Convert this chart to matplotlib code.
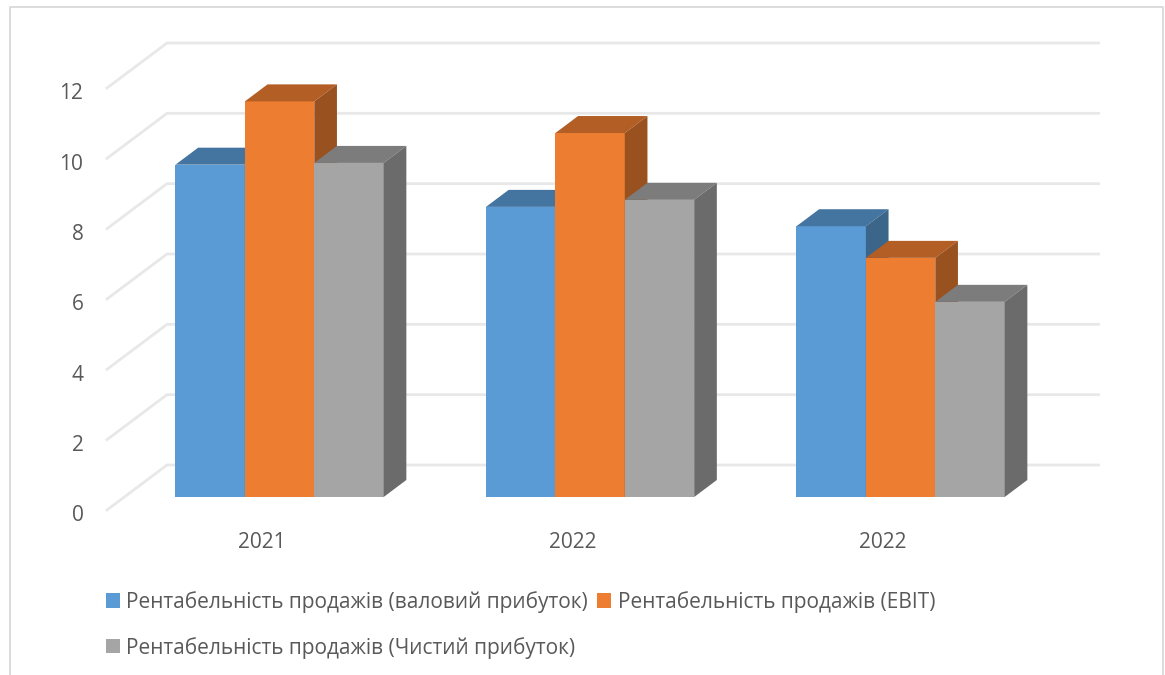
import matplotlib
matplotlib.use('Agg')
import matplotlib.pyplot as plt
from matplotlib.lines import Line2D
from matplotlib.transforms import ScaledTranslation
import numpy as np

plt.rcParams['font.family'] = ['Open Sans', 'DejaVu Sans']

# --- Data ---
categories = ['2021', '2022', '2022']
gross = [9.45, 8.25, 7.7]
ebit = [11.25, 10.35, 6.8]
net = [9.5, 8.45, 5.55]
series_names = [
    'Рентабельність продажів (валовий прибуток)',
    'Рентабельність продажів (EBIT)',
    'Рентабельність продажів (Чистий прибуток)',
]
y_ticks = [0, 2, 4, 6, 8, 10, 12]

# front, top, side colours per series
colors = [
    ('#5B9BD5', '#4474A0', '#3B6589'),
    ('#ED7D31', '#B25E25', '#9A5120'),
    ('#A5A5A5', '#7C7C7C', '#6B6B6B'),
]
text_color = '#595959'
grid_color = '#E8E8E8'
frame_color = '#D9D9D9'

W, H = 1165, 675
fig = plt.figure(figsize=(W / 100, H / 100), dpi=100)
ax = fig.add_axes([107 / W, 1 - 510 / H, (1038.5 - 107) / W, (510 - 88) / H])
ax.set_xlim(-0.5, 2.5)
ax.set_ylim(0, 12)

# Oblique projection: full floor depth in data units
depth_x = 60 / 310.5
depth_y = 45 / 35.17
bar_front = 13 / 45   # depth where bars start
bar_back = 30 / 45    # depth where bars end
bar_width = 0.2235

# back wall and side wall lines
for t in y_ticks:
    ax.plot([-0.5, -0.5 + depth_x, 2.5 + depth_x], [t, t + depth_y, t + depth_y],
            color=grid_color, lw=2.0, clip_on=False, zorder=1, solid_joinstyle='miter')

x = np.arange(len(categories))
handles = []
for s, values in enumerate([gross, ebit, net]):
    front, top, side = colors[s]
    z = 3 + s
    left = x + (s - 1) * bar_width + bar_front * depth_x
    bars = ax.bar(left, values, bar_width, bottom=bar_front * depth_y, color=front,
                  zorder=z, clip_on=False, label=series_names[s])
    handles.append(bars)
    d_x = (bar_back - bar_front) * depth_x
    d_y = (bar_back - bar_front) * depth_y
    for xc, v in zip(left, values):
        x0 = xc - bar_width / 2
        x1 = xc + bar_width / 2
        base = bar_front * depth_y
        y1 = base + v
        ax.fill([x0, x1, x1 + d_x, x0 + d_x], [y1, y1, y1 + d_y, y1 + d_y],
                color=top, lw=0, zorder=z, clip_on=False)
        ax.fill([x1, x1 + d_x, x1 + d_x, x1], [base, base + d_y, y1 + d_y, y1],
                color=side, lw=0, zorder=z, clip_on=False)

ax.set_xticks(x)
ax.set_xticklabels(categories)
ax.set_yticks(y_ticks)
ax.tick_params(axis='x', length=0, pad=16, labelsize=15, labelcolor=text_color)
ax.tick_params(axis='y', length=0, pad=17, labelsize=15, labelcolor=text_color)
# y labels sit a little below their lines in the original
shift = ScaledTranslation(0, -2.5 / 72, fig.dpi_scale_trans)
for lab in ax.get_yticklabels():
    lab.set_transform(lab.get_transform() + shift)
for spine in ax.spines.values():
    spine.set_visible(False)
ax.patch.set_alpha(0)

# two columns: first holds gross + net, second holds EBIT
leg = ax.legend([handles[0], handles[2], handles[1]],
                [series_names[0], series_names[2], series_names[1]],
                ncol=2, loc='upper left', bbox_to_anchor=(106 / W, 1 - 591 / H),
                bbox_transform=fig.transFigure, frameon=False, fontsize=15,
                labelcolor=text_color, borderpad=0, borderaxespad=0,
                handlelength=0.67, handleheight=0.67, handletextpad=0.3,
                labelspacing=1.15, columnspacing=0.45)

# chart frame, open at the bottom
fig.add_artist(Line2D([10 / W, 10 / W, 1163 / W, 1163 / W], [0, 1 - 7 / H, 1 - 7 / H, 0],
                      color=frame_color, lw=1.3, transform=fig.transFigure))

fig.savefig('out.png', dpi=100)
